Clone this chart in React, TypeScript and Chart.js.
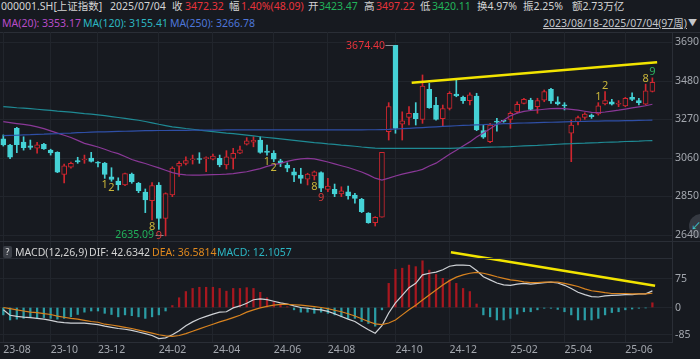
import React, { useEffect, useRef } from "react";
import { Chart, registerables } from "chart.js";
Chart.register(...registerables);

const FONT = '"Noto Sans", "Noto Sans CJK SC", "DejaVu Sans", sans-serif';

// weekly candles 2023/08/18 - 2025/07/04 (97 weeks)
const OPEN = [3165,3130,3222,3147,3126,3113,3135,3103,3091,2971, 3010,3046,3049,3060,3038,3033,2958,2934,2913,2973, 2922,2874,2827,2912,2731,2858,3016,3031,3050,3055, 3057,3053,3058,3022,3058,3086,3136,3147,3158,3098, 3086,3045,3021,2984,2967,2944,2962,2980,2889,2889, 2864,2876,2858,2835,2759,2707,2737,3203,3674.4,3245, 3282,3304,3271,3435,3347,3274,3331,3409,3391,3373, 3398,3209,3149,3260,3264,3271,3312,3358,3376,3340, 3376,3435,3367,3346,3195,3258,3282,3294,3300,3355, 3367,3353,3344,3391,3373,3353,3423.47];
const HIGH = [3186,3135,3227,3176,3158,3145,3140,3108,3094,3027, 3038,3064,3076,3091,3040,3036,3007,2952,2978,2978, 2927,2891,2926,2926,2870,3012,3040,3067,3076,3089, 3066,3082,3076,3100,3113,3125,3171,3176,3176,3131, 3100,3053,3034,3004,3004,2977,2989,2985,2949,2918, 2903,2907,2867,2840,2762,2740,3091,3362,3674.4,3312, 3340,3362,3513,3467,3391,3349,3422,3485,3398,3416, 3413,3240,3249,3276,3266,3312,3367,3386,3386,3386, 3431,3440,3394,3362,3267,3289,3307,3300,3362,3422, 3380,3373,3391,3416,3386,3463,3497.22];
const LOW = [3125,3056,3089,3103,3107,3086,3107,3076,2980,2924, 3005,3031,3031,3038,3012,2949,2933,2885,2909,2922, 2871,2762,2722,2671,2635.09,2849,2960,3022,3027,3031, 2985,3050,3012,3000,3000,3083,3131,3121,3086,3076, 3040,3013,2985,2931,2922,2913,2940,2876,2876,2849, 2849,2835,2813,2762,2704,2689,2737,3158,3195,3158, 3240,3240,3249,3331,3267,3231,3322,3394,3358,3349, 3209,3167,3143,3207,3255,3222,3304,3355,3322,3304, 3367,3358,3349,3322,3040,3240,3271,3276,3294,3349, 3349,3340,3340,3373,3349,3349,3420.11];
const CLOSE = [3132,3064,3133,3117,3118,3132,3110,3088,2983,3018, 3031,3039,3054,3041,3032,2970,2943,2915,2975,2929, 2882,2832,2910,2730,2866,3005,3031,3046,3055,3052, 3061,3071,3022,3067,3086,3104,3154,3157,3091,3090, 3053,3034,3004,2967,2949,2973,2984,2895,2907,2864, 2881,2854,2840,2767,2707,2737,3091,3340,3222,3263, 3304,3274,3453,3334,3271,3329,3413,3398,3373,3404, 3213,3173,3240,3256,3260,3304,3353,3380,3325,3373, 3422,3371,3355,3344,3240,3280,3299,3285,3345,3373, 3353,3356,3386,3380,3362,3427,3472.32];

// moving averages
const MA20 = [3258,3253,3248,3243,3238,3230,3220,3208,3196,3184, 3172,3156,3140,3130,3120,3108,3094,3084,3068,3052, 3040,3030,3018,3006,2993,2980,2972,2968,2967,2967, 2968,2969,2970,2972,2975,2980,2985,2994,3002,3014, 3024,3031,3042,3050,3055,3058,3055,3047,3038,3028, 3018,3008,2996,2984,2968,2950,2940,2950,2962,2972, 2980,2988,2998,3016,3032,3056,3080,3102,3126,3148, 3174,3196,3220,3244,3266,3290,3305,3314,3319,3322, 3326,3329,3331,3329,3325,3321,3315,3309,3307,3311, 3316,3321,3327,3333,3339,3345,3353];
const MA120 = [3340,3337,3334,3332,3329,3326,3323,3320,3316,3313, 3310,3306,3302,3299,3295,3291,3286,3281,3276,3271, 3266,3259,3252,3244,3237,3230,3226,3221,3217,3212, 3208,3204,3200,3196,3193,3189,3185,3181,3176,3172, 3168,3164,3160,3156,3152,3148,3144,3141,3137,3134, 3130,3127,3124,3120,3117,3114,3113,3113,3113,3113, 3113,3113,3113,3113,3113,3113,3113,3114,3115,3116, 3117,3118,3119,3120,3121,3122,3124,3126,3128,3129, 3131,3133,3135,3137,3138,3140,3141,3143,3144,3146, 3147,3148,3150,3151,3152,3154,3155];
const MA250 = [3182,3183,3184,3186,3187,3189,3190,3192,3193,3195, 3196,3198,3199,3201,3202,3203,3204,3205,3206,3207, 3208,3209,3209,3210,3210,3211,3211,3211,3212,3212, 3212,3212,3212,3213,3213,3213,3213,3213,3213,3213, 3213,3213,3213,3213,3213,3213,3213,3213,3213,3213, 3213,3213,3213,3213,3214,3214,3215,3216,3218,3220, 3222,3224,3226,3228,3230,3232,3234,3236,3238,3239, 3241,3242,3244,3245,3247,3248,3250,3251,3252,3253, 3254,3255,3256,3257,3258,3259,3260,3261,3261,3262, 3262,3263,3264,3264,3265,3266,3267];

// MACD(12,26,9)
const DIF = [-6,-20,-23,-25,-26,-28,-30,-33,-37,-39, -40,-40,-40,-42,-44,-48,-51,-54,-56,-59, -63,-67,-72,-80,-78,-70,-60,-47,-37,-29, -23,-17,-12,-11,-1,4,11,20,22,20, 16,12,9,4,0,-2,-5,-6,-10,-16, -23,-30,-36,-47,-57,-66,-47,-14,12,31, 51,62,84,88,91,97,106,109,109,108, 95,79,71,63,58,57,60,62,60,62, 64,65,63,57,49,39,33,28,27,30, 31,32,33,33,35,35,42.63];
const DEA = [0,-3,-6,-9,-12,-13,-16,-18,-22,-25, -28,-30,-33,-36,-38,-43,-45,-48,-51,-54, -58,-62,-66,-70,-73,-74,-72,-67,-61,-55, -49,-43,-37,-32,-26,-20,-12,-6,-1,3, 6,8,8,7,6,4,2,0,-3,-7, -11,-16,-22,-29,-36,-42,-44,-40,-32,-19, -6,6,19,32,45,58,69,78,84,88, 90,88,84,79,75,71,69,66,64,64, 65,65,65,62,58,54,48,43,41,38, 36,36,36,35,35,35,36.58];
const MACD_HIST = [-19,-32,-30,-28,-26,-28,-26,-28,-30,-28, -24,-18,-12,-9,-9,-15,-18,-24,-19,-21, -24,-28,-24,-19,-9,5,25,41,49,52, 52,52,49,42,49,49,51,49,39,25, 15,8,2,-6,-12,-12,-15,-12,-15,-19, -24,-28,-28,-36,-41,-48,-6,62,98,101, 109,105,120,96,85,75,71,62,49,41, 9,-19,-24,-32,-32,-28,-17,-11,-11,-6, -2,-2,-5,-11,-19,-32,-32,-32,-28,-19, -13,-11,-6,-4,-2,-1,12.11];

// axes
const PRICE_TICKS = [2640, 2850, 3060, 3270, 3480, 3690];
const MACD_TICK_VALUES = [75, 0, -70.7]; // where the app prints its three labels
const MACD_TICK_LABELS = ["75", "0", "-85"];
const X_TICK_INDEX = [0, 7, 14, 23, 31, 40, 48, 58, 66, 75, 83, 92];
const X_TICK_LABELS = ["23-08", "23-10", "23-12", "24-02", "24-04", "24-06", "24-08", "24-10", "24-12", "25-02", "25-04", "25-06"];

// annotations
const TD_LOW_INDEX = [15, 16, 22, 23, 39, 40, 46, 47];
const TD_LOW_TEXT = ["1", "2", "8", "9", "1", "2", "8", "9"];
const TD_HIGH_INDEX = [88, 89, 95, 96];
const TD_HIGH_TEXT = ["1", "2", "8", "9"];
const HIGH_MARK_INDEX = 58;
const LOW_MARK_INDEX = 24;
const TREND_PRICE_X = [60.4, 96.7];
const TREND_PRICE_Y = [3471, 3582];
const TREND_MACD_X = [66.2, 96.4];
const TREND_MACD_Y = [142, 56];

const X_MIN = -0.49, X_MAX = 98.9;
const PRICE_MIN = 2607.3, PRICE_MAX = 3747.3;
const MACD_MIN = -88.7, MACD_MAX = 170.9;
const MACD_TOP = 241, MACD_AREA_H = 101;

const BG = "#171a20", GRID = "#21252c", SEP = "#2a2e36", AXIS_TEXT = "#a3a7ae", TEXT = "#d4d4d4";
const RED_TEXT = "#e8333b", GREEN_TEXT = "#22b35b", UP = "#d0262f", DOWN = "#45d2d6", YELLOW = "#f2e400";
const TD_YELLOW = "#c9b53a", TD_RED = "#d83a3a", TD_GREEN = "#2db360";

const IDX = OPEN.map((_, i) => i);

const annotPlugin = {
  id: "annot",
  afterDatasetsDraw(chart: any) {
    const { ctx } = chart;
    const x = chart.scales.x, y = chart.scales.y;
    ctx.save();
    ctx.strokeStyle = "#8e9198";
    ctx.lineWidth = 1;
    ctx.font = `10.5px ${FONT}`;
    ctx.textBaseline = "middle";
    ctx.textAlign = "right";
    const hx = x.getPixelForValue(HIGH_MARK_INDEX), hy = y.getPixelForValue(HIGH[HIGH_MARK_INDEX]);
    ctx.beginPath();
    ctx.moveTo(hx - 10, Math.round(hy) + 0.5);
    ctx.lineTo(hx - 2, Math.round(hy) + 0.5);
    ctx.stroke();
    ctx.fillStyle = RED_TEXT;
    ctx.fillText(HIGH[HIGH_MARK_INDEX].toFixed(2), hx - 10.5, hy + 1);
    const lx = x.getPixelForValue(LOW_MARK_INDEX), ly = y.getPixelForValue(LOW[LOW_MARK_INDEX]);
    ctx.beginPath();
    ctx.moveTo(lx - 10, Math.round(ly) - 0.5);
    ctx.lineTo(lx - 2, Math.round(ly) - 0.5);
    ctx.stroke();
    ctx.fillStyle = GREEN_TEXT;
    ctx.fillText(LOW[LOW_MARK_INDEX].toFixed(2), lx - 11.5, ly - 1);
    ctx.font = `11px ${FONT}`;
    ctx.textAlign = "center";
    TD_LOW_INDEX.forEach((i, k) => {
      ctx.fillStyle = TD_LOW_TEXT[k] === "9" ? TD_RED : TD_YELLOW;
      ctx.fillText(TD_LOW_TEXT[k], x.getPixelForValue(i), y.getPixelForValue(LOW[i]) + 6.5);
    });
    TD_HIGH_INDEX.forEach((i, k) => {
      ctx.fillStyle = TD_HIGH_TEXT[k] === "9" ? TD_GREEN : TD_YELLOW;
      ctx.fillText(TD_HIGH_TEXT[k], x.getPixelForValue(i), y.getPixelForValue(HIGH[i]) - 5.5);
    });
    ctx.restore();
  },
};

const noPad = (s: any) => { s.paddingTop = 0; s.paddingBottom = 0; s.paddingLeft = 0; s.paddingRight = 0; };
const xTickBuilder = (s: any) => { s.ticks = X_TICK_INDEX.map((v) => ({ value: v })); };
const lineDs = (data: number[], color: string) => ({
  type: "line", data: data.map((v, i) => ({ x: i, y: v })), borderColor: color,
  borderWidth: 1.2, pointRadius: 0, fill: false, tension: 0, order: 1,
});
const trendDs = (xs: number[], ys: number[]) => ({
  type: "line", data: xs.map((v, k) => ({ x: v, y: ys[k] })), borderColor: YELLOW,
  borderWidth: 2.5, pointRadius: 0, order: 0,
});
const yAxis = (min: number, max: number, ticks: number[], showLabels: boolean) => ({
  type: "linear", position: "right", min, max,
  afterBuildTicks: (s: any) => { s.ticks = ticks.map((v) => ({ value: v })); },
  ticks: { display: showLabels, color: AXIS_TEXT, font: { size: 10.5, family: FONT }, padding: 3, autoSkip: false, callback: (v: number) => String(v) },
  grid: { color: GRID, drawTicks: false },
  border: { display: true, color: SEP },
  afterFit: (s: any) => { s.width = 28; noPad(s); },
});
const baseOpts = { responsive: false, animation: false, events: [], layout: { padding: 0 }, plugins: { legend: { display: false }, tooltip: { enabled: false } } };

export default function App() {
  const mainRef = useRef<HTMLCanvasElement>(null);
  const macdRef = useRef<HTMLCanvasElement>(null);

  useEffect(() => {
    Chart.defaults.font.family = FONT;
    const candleColor = IDX.map((i) => (CLOSE[i] >= OPEN[i] ? UP : DOWN));
    const bodyFill = IDX.map((i) => (CLOSE[i] >= OPEN[i] ? BG : DOWN));
    const main = new Chart(mainRef.current as HTMLCanvasElement, {
      type: "bar",
      data: {
        datasets: [
          trendDs(TREND_PRICE_X, TREND_PRICE_Y),
          lineDs(MA250, "#2f4fa6"),
          lineDs(MA120, "#1f8a94"),
          lineDs(MA20, "#8a3897"),
          { type: "bar", data: IDX.map((i) => ({ x: i, y: [OPEN[i], CLOSE[i]] })), backgroundColor: bodyFill, borderColor: candleColor, borderWidth: 1, borderSkipped: false, barThickness: 5, minBarLength: 1, grouped: false, order: 2 },
          { type: "bar", data: IDX.map((i) => ({ x: i, y: [LOW[i], HIGH[i]] })), backgroundColor: candleColor, borderWidth: 0, barThickness: 1, grouped: false, order: 3 },
        ],
      } as any,
      options: {
        ...baseOpts,
        scales: {
          x: { type: "linear", min: X_MIN, max: X_MAX, offset: false, afterBuildTicks: xTickBuilder, ticks: { display: false }, grid: { color: GRID, drawTicks: false, offset: false }, border: { display: false }, afterFit: (s: any) => { s.height = 0; noPad(s); } },
          y: yAxis(PRICE_MIN, PRICE_MAX, PRICE_TICKS, true),
        },
      } as any,
      plugins: [annotPlugin],
    });
    const macd = new Chart(macdRef.current as HTMLCanvasElement, {
      type: "bar",
      data: {
        datasets: [
          trendDs(TREND_MACD_X, TREND_MACD_Y),
          lineDs(DEA, "#d8831f"),
          lineDs(DIF, "#cfd2d6"),
          { type: "bar", data: IDX.map((i) => ({ x: i, y: MACD_HIST[i] })), backgroundColor: MACD_HIST.map((v) => (v >= 0 ? "#a8171f" : "#2a9ca4")), borderWidth: 0, barThickness: 1.6, grouped: false, order: 2 },
        ],
      } as any,
      options: {
        ...baseOpts,
        scales: {
          x: { type: "linear", min: X_MIN, max: X_MAX, offset: false, afterBuildTicks: xTickBuilder,
            ticks: { display: true, align: "start", autoSkip: false, maxRotation: 0, color: AXIS_TEXT, font: { size: 10.5, family: FONT }, padding: 2, callback: (v: any) => X_TICK_LABELS[X_TICK_INDEX.indexOf(v)] },
            grid: { color: GRID, drawTicks: false, offset: false }, border: { display: true, color: SEP }, afterFit: (s: any) => { s.height = 17; noPad(s); } },
          y: yAxis(MACD_MIN, MACD_MAX, MACD_TICK_VALUES, false),
        },
      } as any,
    });
    return () => { main.destroy(); macd.destroy(); };
  }, []);

  const t = (left: number, top: number, color: string, text: string, extra: any = {}) => (
    <span style={{ position: "absolute", left, top, color, fontSize: 10.5, lineHeight: "12px", whiteSpace: "nowrap", ...extra }}>{text}</span>
  );
  const hline = (top: number, width = 700) => (
    <div style={{ position: "absolute", left: 0, top, width, height: 1, background: SEP }} />
  );
  const macdLabelTop = (v: number) => MACD_TOP + ((MACD_MAX - v) / (MACD_MAX - MACD_MIN)) * MACD_AREA_H - 6.5;

  return (
    <div style={{ position: "fixed", left: 0, top: 0, width: 700, height: 359, overflow: "hidden", background: BG, fontFamily: FONT }}>
      <style>{`body{margin:0;background:${BG};}`}</style>
      {t(1, 0, TEXT, "000001.SH[上证指数]")}
      {t(110, 0, TEXT, "2025/07/04")}
      {t(172, 0, TEXT, "收")}
      {t(185, 0, RED_TEXT, "3472.32")}
      {t(229, 0, TEXT, "幅")}
      {t(241, 0, RED_TEXT, "1.40%(48.09)")}
      {t(308, 0, TEXT, "开")}
      {t(319, 0, GREEN_TEXT, "3423.47")}
      {t(364, 0, TEXT, "高")}
      {t(376, 0, RED_TEXT, "3497.22")}
      {t(420, 0, TEXT, "低")}
      {t(432, 0, GREEN_TEXT, "3420.11")}
      {t(477, 0, TEXT, "换4.97%")}
      {t(523, 0, TEXT, "振2.25%")}
      {t(572, 0, TEXT, "额2.73万亿")}
      {t(2, 17, "#b84cc8", "MA(20): 3353.17")}
      {t(83, 17, "#2cb6c0", "MA(120): 3155.41")}
      {t(170, 17, "#4d76d8", "MA(250): 3266.78")}
      <span style={{ position: "absolute", right: 13, top: 17, color: "#c4c6ca", fontSize: 10.5, lineHeight: "12px", whiteSpace: "nowrap", textDecoration: "underline" }}>2023/08/18-2025/07/04(97周)</span>
      {t(688, 17, "#c4c6ca", "▼", { fontSize: 9 })}
      {hline(32)}
      <div style={{ position: "absolute", left: 689, top: 214, width: 24, height: 24, borderRadius: 12, background: "#353941", color: "#3fc9d0", fontSize: 10, lineHeight: "24px", paddingLeft: 2, boxSizing: "border-box" }}>↙</div>
      <canvas ref={mainRef} width={700} height={209} style={{ position: "absolute", left: 0, top: 32, width: 700, height: 209 }} />
      <canvas ref={macdRef} width={700} height={118} style={{ position: "absolute", left: 0, top: MACD_TOP, width: 700, height: 118 }} />
      {hline(241)}
      {hline(258, 672)}
      {MACD_TICK_VALUES.map((v, k) => (
        <span key={k} style={{ position: "absolute", left: 675, top: macdLabelTop(v), color: AXIS_TEXT, fontSize: 10.5, lineHeight: "13px", whiteSpace: "nowrap" }}>
          {MACD_TICK_LABELS[k]}
        </span>
      ))}
      <div style={{ position: "absolute", left: 3, top: 246, width: 9, height: 12, borderRadius: 2, background: "#3a3e46", color: "#e0e0e0", fontSize: 9, lineHeight: "12px", textAlign: "center" }}>?</div>
      {t(15, 245.5, TEXT, "MACD(12,26,9)")}
      {t(89, 245.5, TEXT, "DIF: 42.6342")}
      {t(152, 245.5, "#e0891e", "DEA: 36.5814")}
      {t(217, 245.5, "#2bb6c3", "MACD: 12.1057")}
    </div>
  );
}
